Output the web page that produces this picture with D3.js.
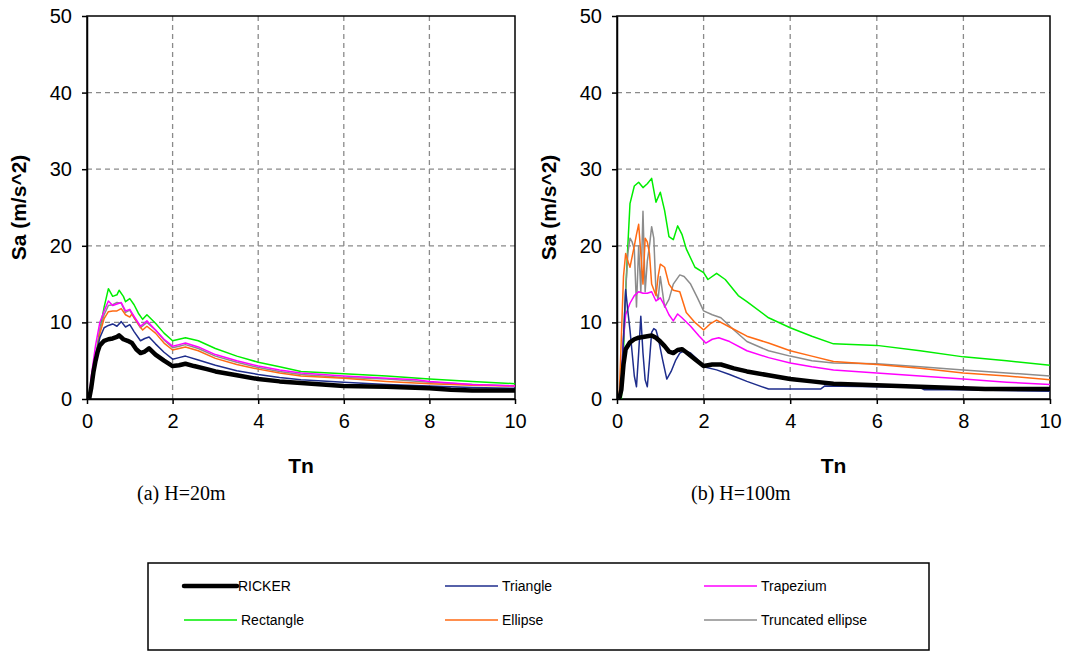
<!DOCTYPE html>
<meta charset="utf-8">
<style>
    body { margin: 0; background: #fff; }
    .tick text { font-family: "Liberation Sans", Arial, sans-serif; font-size: 20px; fill: #000; }
    .axis path, .axis line { stroke: #000; stroke-width: 1.5px; }
    .grid line { stroke: #8a8a8a; stroke-width: 1.3px; stroke-dasharray: 5,4; }
    .series { fill: none; stroke-linejoin: round; }
    .title { font-family: "Liberation Sans", Arial, sans-serif; font-weight: bold; font-size: 21px; }
    .caption { font-family: "Liberation Serif", "Times New Roman", serif; font-size: 20px; }
    .legend text { font-family: "Liberation Sans", Arial, sans-serif; font-size: 14px; }
</style>
<svg width="1073" height="652"></svg>
<script src="https://cdnjs.cloudflare.com/ajax/libs/d3/7.8.5/d3.min.js"></script>
<script>

    // series names, legend order
    var seriesNames = ["RICKER", "Triangle", "Trapezium", "Rectangle", "Ellipse", "Truncated ellipse"];
    var seriesColors = ["#000000", "#1e2d8c", "#ff00ff", "#00ee00", "#ff6a13", "#8c8c8c"];

    var xTicks = [0, 2, 4, 6, 8, 10];
    var yTicks = [0, 10, 20, 30, 40, 50];

    // (a) H=20m  -- [Tn, Sa]
    var ricker20 = [[0.05,0],[0.1,1.5],[0.15,3.5],[0.2,5],[0.25,6.2],[0.3,7],[0.4,7.6],[0.5,7.8],[0.6,7.9],[0.7,8.1],[0.75,8.3],[0.85,7.8],[0.95,7.6],[1.05,7.3],[1.15,6.5],[1.25,6.0],[1.35,6.2],[1.45,6.6],[1.6,5.8],[1.8,5.0],[2.0,4.3],[2.15,4.4],[2.3,4.6],[2.5,4.3],[2.8,3.9],[3,3.6],[3.5,3.1],[4,2.6],[4.5,2.3],[5,2.1],[5.5,1.9],[6,1.7],[7,1.6],[8,1.4],[8.5,1.2],[9,1.1],[10,1.1]];
    var triangle20 = [[0.05,0],[0.1,2],[0.2,5.5],[0.3,8],[0.4,9.3],[0.5,9.6],[0.6,9.8],[0.7,9.5],[0.8,10.1],[0.9,9.4],[1.0,9.7],[1.1,8.8],[1.25,7.6],[1.35,7.9],[1.45,8.1],[1.6,7.2],[1.8,6.1],[2.0,5.2],[2.15,5.4],[2.3,5.6],[2.6,5.1],[3,4.4],[3.5,3.7],[4,3.2],[4.5,2.8],[5,2.5],[6,2.2],[7,1.9],[8,1.7],[9,1.5],[10,1.4]];
    var trapezium20 = [[0.05,0],[0.1,3],[0.2,7],[0.3,10],[0.4,11.5],[0.5,12.8],[0.6,12.2],[0.7,12.4],[0.8,12.6],[0.9,11.5],[1.0,11.7],[1.1,10.8],[1.25,9.5],[1.4,10.2],[1.6,9],[1.8,7.8],[2.0,6.9],[2.15,7.1],[2.3,7.3],[2.6,6.8],[3,5.8],[3.5,5.0],[4,4.3],[4.5,3.8],[5,3.4],[6,3.0],[7,2.7],[7.7,2.5],[8,2.3],[9,1.9],[10,1.7]];
    var rectangle20 = [[0.05,0],[0.1,2],[0.2,5.5],[0.3,9],[0.4,12],[0.5,14.4],[0.6,13.4],[0.7,13.6],[0.75,14.2],[0.85,13.4],[0.9,12.7],[1.0,13.1],[1.1,12.3],[1.2,11.2],[1.3,10.4],[1.4,11.0],[1.6,9.9],[1.8,8.6],[2.0,7.6],[2.15,7.8],[2.3,8.0],[2.6,7.6],[3,6.6],[3.5,5.6],[4,4.8],[4.5,4.2],[5,3.6],[6,3.3],[7,3.0],[8,2.6],[9,2.3],[10,2.0]];
    var ellipse20 = [[0.05,0],[0.1,1.5],[0.2,5],[0.3,8.5],[0.4,10.5],[0.5,11.4],[0.6,11.5],[0.7,11.5],[0.8,11.8],[0.9,11.0],[1.0,10.7],[1.05,11.1],[1.15,10.2],[1.3,9.0],[1.4,9.5],[1.6,8.6],[1.8,7.3],[2.0,6.4],[2.15,6.6],[2.3,6.8],[2.6,6.3],[3,5.3],[3.5,4.5],[4,3.9],[4.5,3.4],[5,3.0],[6,2.7],[7,2.3],[8,2.0],[9,1.8],[10,1.7]];
    var truncated20 = [[0.05,0],[0.1,1.5],[0.2,5],[0.3,9],[0.4,11],[0.5,12.2],[0.6,12.3],[0.7,12.6],[0.8,12.5],[0.9,11.3],[1.0,11.6],[1.1,10.6],[1.25,9.3],[1.4,10.0],[1.6,9.0],[1.8,7.7],[2.0,6.7],[2.15,6.9],[2.3,7.1],[2.6,6.6],[3,5.6],[3.5,4.8],[4,4.1],[4.5,3.6],[5,3.2],[6,2.8],[7,2.6],[8,2.2],[9,1.9],[10,1.7]];

    // (b) H=100m
    var ricker100 = [[0.05,0],[0.1,1.2],[0.15,4.5],[0.2,6.5],[0.3,7.4],[0.4,7.8],[0.5,8.0],[0.6,8.1],[0.7,8.2],[0.8,8.3],[0.9,8.0],[1.0,7.5],[1.1,6.9],[1.2,6.2],[1.3,6.0],[1.4,6.4],[1.5,6.5],[1.6,6.1],[1.8,5.2],[2.0,4.3],[2.2,4.5],[2.4,4.5],[2.7,4.0],[3,3.6],[3.5,3.1],[4,2.6],[4.5,2.3],[5,2.0],[6,1.8],[7,1.6],[8,1.4],[8.5,1.3],[9,1.3],[10,1.3]];
    var triangle100 = [[0.05,0],[0.1,2],[0.15,8],[0.2,14.3],[0.25,11.5],[0.3,9],[0.35,6],[0.4,3],[0.45,1.6],[0.5,6],[0.55,10.8],[0.6,6],[0.65,2.5],[0.7,1.6],[0.75,5],[0.8,8.7],[0.85,9.2],[0.9,9.0],[0.95,8.0],[1.05,5.2],[1.15,2.6],[1.25,3.6],[1.35,5.0],[1.45,6.0],[1.55,6.3],[1.7,6.0],[1.85,5.2],[2.0,4.2],[2.3,3.8],[2.6,3.2],[3,2.3],[3.5,1.3],[4,1.3],[4.7,1.3],[4.8,1.7],[6,1.6],[7,1.5],[7.1,1.2],[8,1.2],[9,1.1],[10,1.0]];
    var trapezium100 = [[0.05,0],[0.1,2],[0.15,8],[0.2,11],[0.3,12.5],[0.4,13.5],[0.5,14],[0.6,13.8],[0.7,13.8],[0.8,14],[0.9,12.8],[1.0,13.2],[1.1,12.2],[1.2,11],[1.3,10.2],[1.4,11.1],[1.5,10.6],[1.7,9.5],[1.9,8.2],[2.05,7.3],[2.2,7.8],[2.35,8.0],[2.6,7.5],[3,6.3],[3.5,5.4],[4,4.7],[4.5,4.2],[5,3.8],[6,3.4],[7,3.0],[8,2.6],[9,2.2],[10,1.9]];
    var rectangle100 = [[0.1,0],[0.15,6],[0.2,14],[0.25,20],[0.3,25.5],[0.4,27.8],[0.5,28.3],[0.6,27.6],[0.7,28.1],[0.8,28.8],[0.9,25.7],[1.0,27],[1.1,24.6],[1.2,21.2],[1.3,20.8],[1.4,22.6],[1.5,21.5],[1.6,19.6],[1.8,17.2],[2.0,16.5],[2.1,15.6],[2.3,16.4],[2.5,15.6],[2.8,13.5],[3,12.7],[3.5,10.6],[4,9.3],[4.5,8.2],[5,7.2],[6,7.0],[7,6.3],[8,5.5],[9,5.0],[10,4.4]];
    var ellipse100 = [[0.05,0],[0.1,8],[0.15,16],[0.2,19],[0.25,18],[0.3,17.2],[0.4,20],[0.45,21.5],[0.5,22.8],[0.55,19],[0.6,15],[0.65,21],[0.7,20.5],[0.75,19],[0.8,15],[0.9,13.5],[0.95,16],[1.0,17.6],[1.1,17.2],[1.2,15],[1.3,14.2],[1.45,14.0],[1.6,11.3],[1.8,10],[2.0,9.0],[2.15,9.8],[2.3,10.3],[2.6,9.4],[3,8.2],[3.5,7.3],[4,6.3],[4.5,5.6],[5,4.9],[6,4.5],[7,4.0],[8,3.4],[9,3.0],[10,2.5]];
    var truncated100 = [[0.05,0],[0.1,2],[0.15,8],[0.2,14],[0.25,19],[0.3,21],[0.35,20.5],[0.4,19.5],[0.45,12],[0.5,20],[0.55,14],[0.6,24.5],[0.65,14],[0.7,18],[0.75,20],[0.8,22.5],[0.85,21],[0.9,14],[0.95,13],[1.0,16],[1.1,12],[1.2,13],[1.3,15],[1.45,16.2],[1.55,16],[1.7,15],[1.85,13.3],[2.0,11.5],[2.2,11],[2.4,10.6],[2.7,9],[3,7.5],[3.5,6.3],[4,5.6],[4.5,5.0],[5,4.7],[6,4.6],[7,4.2],[8,3.8],[9,3.4],[10,3.0]];

    var svg = d3.select("svg");

    function drawPanel(id, left, right, top, bottom, data, caption, captionX) {
        var x = d3.scaleLinear().domain([0, 10]).range([left, right]),
            y = d3.scaleLinear().domain([0, 50]).range([bottom, top]);

        var g = svg.append("g");

        g.append("clipPath").attr("id", "clip" + id)
            .append("rect").attr("x", left).attr("y", top)
            .attr("width", right - left).attr("height", bottom - top);

        // dashed grid
        var grid = g.append("g").attr("class", "grid");
        grid.selectAll(".gx").data(xTicks.slice(1, -1)).enter().append("line")
            .attr("x1", d => x(d)).attr("x2", d => x(d))
            .attr("y1", top).attr("y2", bottom);
        grid.selectAll(".gy").data(yTicks.slice(1, -1)).enter().append("line")
            .attr("x1", left).attr("x2", right)
            .attr("y1", d => y(d)).attr("y2", d => y(d));

        // frame
        g.append("rect")
            .attr("x", left).attr("y", top)
            .attr("width", right - left).attr("height", bottom - top)
            .attr("fill", "none").attr("stroke", "#000").attr("stroke-width", 1.5);

        g.append("g").attr("class", "axis")
            .attr("transform", "translate(" + left + ",0)")
            .call(d3.axisLeft(y).tickValues(yTicks).tickSize(5).tickSizeOuter(0).tickPadding(10));
        g.append("g").attr("class", "axis")
            .attr("transform", "translate(0," + bottom + ")")
            .call(d3.axisBottom(x).tickValues(xTicks).tickSize(5).tickSizeOuter(0).tickPadding(10));

        var line = d3.line()
            .x(d => x(d[0]))
            .y(d => y(d[1]));

        // draw RICKER last so it sits on top
        var order = [3, 5, 4, 2, 1, 0];
        g.append("g").attr("clip-path", "url(#clip" + id + ")")
            .selectAll("path").data(order).enter().append("path")
            .attr("class", "series")
            .attr("d", i => line(data[i]))
            .attr("stroke", i => seriesColors[i])
            .attr("stroke-width", i => i === 0 ? 4.5 : 1.5);

        g.append("text").attr("class", "title")
            .attr("transform", "translate(" + (left - 61) + "," + ((top + bottom) / 2) + ") rotate(-90)")
            .attr("text-anchor", "middle")
            .text("Sa (m/s^2)");

        g.append("text").attr("class", "title")
            .attr("x", (left + right) / 2).attr("y", 473)
            .attr("text-anchor", "middle")
            .text("Tn");

        g.append("text").attr("class", "caption")
            .attr("x", captionX).attr("y", 500)
            .text(caption);
    }

    drawPanel("a", 87, 515, 16, 399,
        [ricker20, triangle20, trapezium20, rectangle20, ellipse20, truncated20],
        "(a) H=20m", 137);
    drawPanel("b", 617, 1050, 16, 399,
        [ricker100, triangle100, trapezium100, rectangle100, ellipse100, truncated100],
        "(b) H=100m", 691);

    // legend
    var legend = svg.append("g").attr("class", "legend");
    legend.append("rect")
        .attr("x", 148).attr("y", 563).attr("width", 781).attr("height", 87)
        .attr("fill", "#fff").attr("stroke", "#000").attr("stroke-width", 1.5);

    var colX = [184, 445, 704], rowY = [586, 620];
    var item = legend.selectAll(".item").data(seriesNames).enter().append("g")
        .attr("transform", (d, i) => "translate(" + colX[i % 3] + "," + rowY[Math.floor(i / 3)] + ")");
    item.append("line")
        .attr("x1", 0).attr("x2", 53).attr("y1", 0).attr("y2", 0)
        .attr("stroke", (d, i) => seriesColors[i])
        .attr("stroke-width", (d, i) => i === 0 ? 4.5 : 1.5)
        .attr("stroke-linecap", (d, i) => i === 0 ? "round" : "butt");
    item.append("text")
        .attr("x", (d, i) => i === 0 ? 54 : 57).attr("y", 0).attr("dy", "0.35em")
        .text(d => d);

</script>
